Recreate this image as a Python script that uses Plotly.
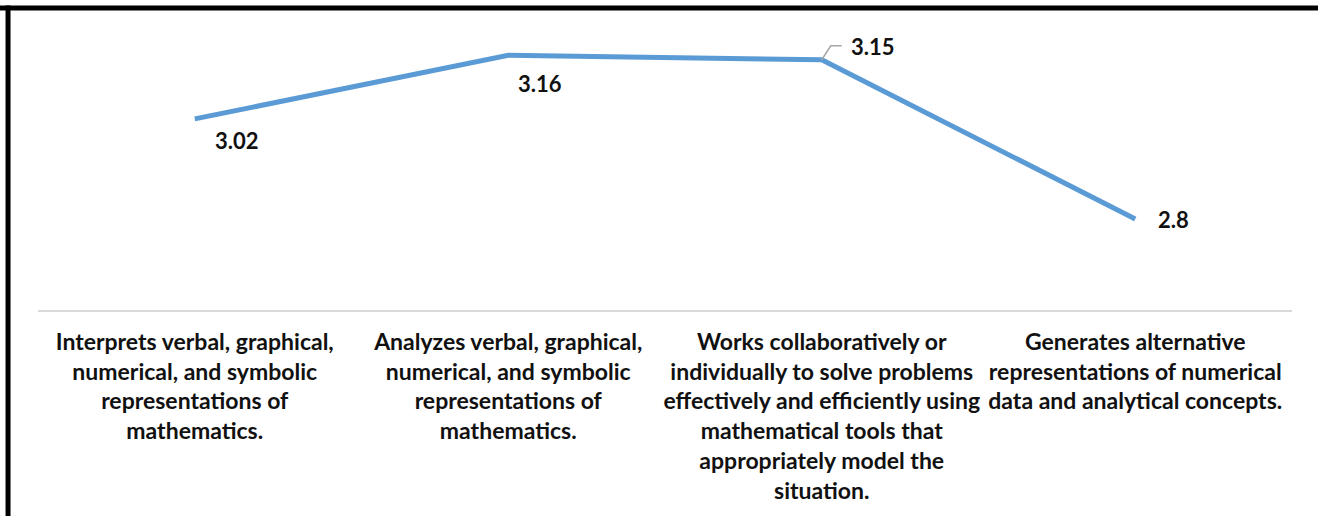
import plotly.graph_objects as go

categories = [
    "Interprets verbal, graphical,<br>numerical, and symbolic<br>representations of<br>mathematics.",
    "Analyzes verbal, graphical,<br>numerical, and symbolic<br>representations of<br>mathematics.",
    "Works collaboratively or<br>individually to solve problems<br>effectively and efficiently using<br>mathematical tools that<br>appropriately model the<br>situation.",
    "Generates alternative<br>representations of numerical<br>data and analytical concepts.",
]
values = [3.02, 3.16, 3.15, 2.8]
value_labels = ["3.02", "3.16", "3.15", "2.8"]

# pixel offsets of each data label from its point (x right, y up)
label_offsets = [(42, -22), (32, -28), (51, 13), (38, 0)]

fig = go.Figure()
fig.add_trace(go.Scatter(
    x=categories, y=values, mode="lines",
    line=dict(color="#5B9BD5", width=5),
    hoverinfo="skip", showlegend=False,
))

for cat, v, lab, (dx, dy) in zip(categories, values, value_labels, label_offsets):
    fig.add_annotation(
        x=cat, y=v, xref="x", yref="y", text="<b>" + lab + "</b>", showarrow=False,
        xshift=dx, yshift=dy,
        font=dict(family="Lato, sans-serif", size=22, color="#111111"),
    )

# leader line for the third label
fig.add_shape(
    type="path", xref="x", yref="y",
    xsizemode="pixel", ysizemode="pixel",
    xanchor=categories[2], yanchor=values[2],
    path="M0,0 L9,14 L20,14",
    line=dict(color="#A6A6A6", width=1.5),
)

# chart border (top and left edges)
fig.add_shape(type="line", xref="paper", yref="paper",
              x0=-0.0323, x1=1.03, y0=1.1062, y1=1.1062,
              line=dict(color="black", width=5))
fig.add_shape(type="line", xref="paper", yref="paper",
              x0=-0.0239, x1=-0.0239, y0=1.115, y1=-0.80,
              line=dict(color="black", width=5))

fig.update_layout(
    width=1318, height=516,
    margin=dict(l=38, r=26, t=37, b=206),
    paper_bgcolor="white", plot_bgcolor="white",
    template="none",
    xaxis=dict(
        type="category", range=[-0.5, 3.5],
        showgrid=False, zeroline=False,
        showline=True, linecolor="#D9D9D9", linewidth=2,
        ticks="outside", ticklen=10, tickcolor="rgba(0,0,0,0)",
        tickangle=0, automargin=False,
        tickfont=dict(family="Lato, sans-serif",
                      size=23, color="#111111", weight="bold"),
    ),
    yaxis=dict(range=[2.6, 3.2], visible=False, automargin=False),
    showlegend=False,
)

fig.write_html("out.html", config={"displayModeBar": False},
               post_script="document.body.style.margin='0px';")
